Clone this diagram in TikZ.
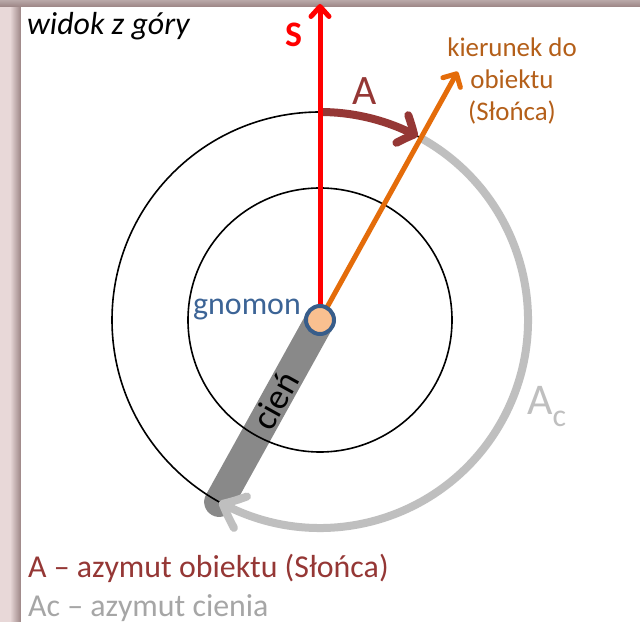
\documentclass[tikz,border=0pt]{standalone}
\usepackage{fontspec}
\setmainfont{Carlito}
\usetikzlibrary{arrows.meta,bending,calc}
\definecolor{framebg}{RGB}{232,216,216}
\definecolor{frameshadow}{RGB}{155,132,132}
\definecolor{frametop}{RGB}{185,168,168}
\definecolor{azred}{RGB}{149,55,53}
\definecolor{sunorange}{RGB}{228,108,10}
\definecolor{suntext}{RGB}{180,95,25}
\definecolor{arcgray}{RGB}{191,191,191}
\definecolor{legendgray}{RGB}{166,166,166}
\definecolor{bargray}{RGB}{137,137,137}
\definecolor{gnomonfill}{RGB}{250,192,144}
\definecolor{gnomonline}{RGB}{56,93,138}
\definecolor{gnomontext}{RGB}{60,100,150}
\begin{document}
\begin{tikzpicture}[x=1bp,y=1bp,
  ring/.style={draw=black,line width=1.6bp},
  northline/.style={draw=red,line width=5bp,-{Straight Barb[length=10bp,width=18bp,round]}},
  sunline/.style={draw=sunorange,line width=5bp,-{Straight Barb[length=10bp,width=20bp,round]}},
  azarc/.style={draw=azred,line width=8bp,-{Straight Barb[length=13bp,width=30bp,round,bend]}},
  acarc/.style={draw=arcgray,line width=8bp,-{Straight Barb[length=20bp,width=34bp,round,bend]}},
  shadowbar/.style={draw=bargray,line width=30bp,line cap=round},
  gnomonmark/.style={circle,draw=gnomonline,fill=gnomonfill,line width=4bp,minimum size=28bp,inner sep=0pt},
  lbl/.style={inner sep=0pt},
]
\useasboundingbox (0,0) rectangle (640,622);
% frame with shadow
\fill[framebg] (0,0) rectangle (640,622);
\shade[left color=framebg,right color=frameshadow] (10,0) rectangle (21,622);
\shade[top color=frametop,bottom color=frameshadow] (0,615) rectangle (640,622);
\fill[white] (21,0) rectangle (640,615);

\coordinate (C) at (320,302);
\coordinate (Stip) at (320,618);
\coordinate (Otip) at ($(C)+(61:284)$);
\coordinate (Aend) at ($(C)+(62:208)$);
\coordinate (Atop) at ($(C)+(90:208)$);
\coordinate (Cstart) at ($(C)+(61:208)$);
\coordinate (Bend) at ($(C)+(-119:208)$);

% shadow bar
\draw[shadowbar] (C) -- (Bend);
% circles
\draw[ring] (C) circle[radius=208];
\draw[ring] (C) circle[radius=132];
% shadow azimuth arc
\draw[acarc] (Cstart) arc[start angle=61,end angle=-119,radius=208];
% azimuth arc
\draw[azarc] (Atop) arc[start angle=90,end angle=62,radius=208];
% north and sun direction
\draw[northline] (C) -- (Stip);
\draw[sunline] (C) -- (Otip);
% gnomon
\node[gnomonmark] (G) at (C) {};

% labels
\node[lbl,anchor=base west,font=\fontsize{32}{36}\selectfont\itshape] (view) at (27,587) {widok z góry};
\node[lbl,anchor=base,text=red,font=\fontsize{36}{40}\selectfont\bfseries] (Slbl) at (293.5,575) {S};
\node[lbl,anchor=base,text=azred,font=\fontsize{42}{46}\selectfont] (Albl) at (365,517) {A};
\node[lbl,anchor=base,text=suntext,align=center,font=\fontsize{27}{32.5}\selectfont] (sunlbl) at (512,501) {kierunek do\\obiektu\\(Słońca)};
\node[lbl,anchor=base east,text=gnomontext,font=\fontsize{32}{36}\selectfont] (glbl) at (301,307) {gnomon};
\node[lbl,rotate=61,font=\fontsize{36}{40}\selectfont] (clbl) at ($(C)+(-119:92)$) {cień};
\node[lbl,anchor=base west,text=arcgray,font=\fontsize{44}{48}\selectfont] (Aclbl) at (527,207) {A\raisebox{-12bp}{\fontsize{32}{36}\selectfont c}};
\node[lbl,anchor=base west,text=azred,font=\fontsize{32}{36}\selectfont] (leg1) at (28,44) {A – azymut obiektu (Słońca)};
\node[lbl,anchor=base west,text=legendgray,font=\fontsize{32}{36}\selectfont] (leg2) at (28,5) {Ac – azymut cienia};
\end{tikzpicture}
\end{document}
